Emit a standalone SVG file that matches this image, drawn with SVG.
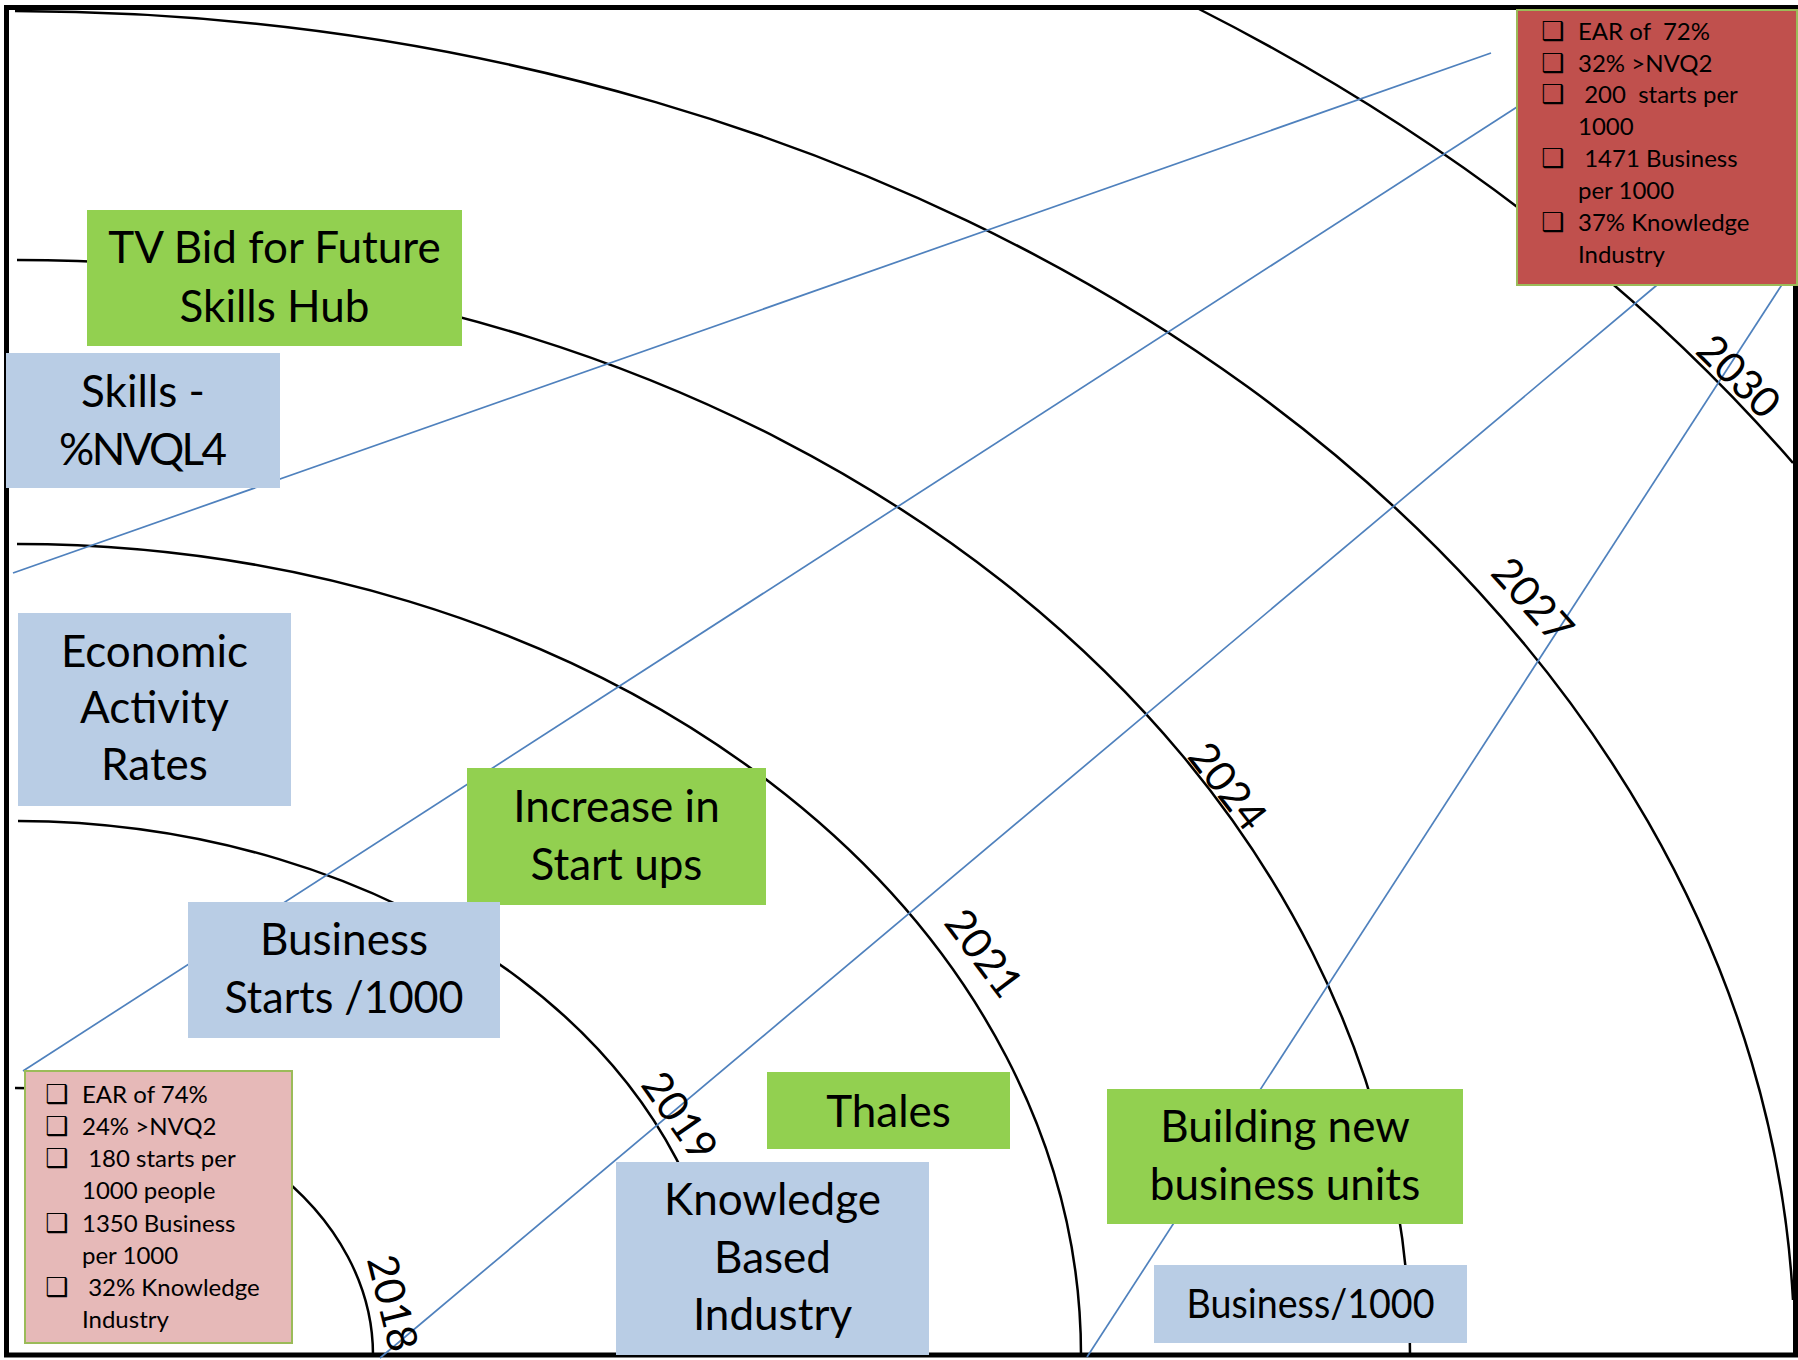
<svg xmlns="http://www.w3.org/2000/svg" width="1798" height="1360" viewBox="0 0 1798 1360">
  <style>
    .frame { fill: none; stroke: #000; stroke-width: 5; }
    .ring { fill: none; stroke: #000; stroke-width: 2.5; }
    .ray { fill: none; stroke: #4F81BD; stroke-width: 1.7; }
    .action { fill: #92D050; }
    .measure { fill: #B9CDE5; }
    .baseline-box { fill: #E6B9B8; stroke: #9BBB59; stroke-width: 2; }
    .target-box { fill: #C0504D; stroke: #9BBB59; stroke-width: 2; }
    .big { font-family: Lato, "Liberation Sans", sans-serif; font-size: 44px; fill: #000; text-anchor: middle; }
    .year { font-family: Lato, "Liberation Sans", sans-serif; font-size: 42px; fill: #000; text-anchor: middle; }
    .small { font-family: Lato, "Liberation Sans", sans-serif; font-size: 24px; fill: #000; }
    .tick { font-family: "DejaVu Sans", sans-serif; font-size: 26px; font-weight: bold; fill: #000; }
  </style>

  <rect width="1798" height="1360" fill="#fff"/>

  <!-- outer frame -->
  <rect class="frame" x="6.5" y="7.5" width="1789" height="1347.5"/>

  <!-- time rings, quarter ellipses around the lower-left corner -->
  <g id="rings">
    <path class="ring" d="M15,1088 A358,267 0 0 1 373,1355"/>
    <path class="ring" d="M18,821 A711,534 0 0 1 726,1355"/>
    <path class="ring" d="M17,544 A1066,811 0 0 1 1081,1355"/>
    <path class="ring" d="M17,260 A1395,1095 0 0 1 1410,1355"/>
    <path class="ring" d="M15,11 A1785,1344 0 0 1 1793,1300"/>
    <path class="ring" d="M1196,7.5 A2130,1619 0 0 1 1793,463"/>
  </g>

  <!-- rays from the baseline towards the target -->
  <g id="connectors">
    <line class="ray" x1="13" y1="573" x2="1491" y2="53"/>
    <line class="ray" x1="23" y1="1071" x2="1517" y2="107"/>
    <line class="ray" x1="380" y1="1358" x2="1657" y2="285"/>
    <line class="ray" x1="1087" y1="1357" x2="1783" y2="283"/>
  </g>

  <!-- year labels along the rings -->
  <g id="years">
    <text class="year" transform="translate(393,1303) rotate(76)" dy="15">2018</text>
    <text class="year" transform="translate(680,1116) rotate(55)" dy="15">2019</text>
    <text class="year" transform="translate(984,953) rotate(53)" dy="15">2021</text>
    <text class="year" transform="translate(1228,786) rotate(52)" dy="15">2024</text>
    <text class="year" transform="translate(1533,600) rotate(48)" dy="15">2027</text>
    <text class="year" transform="translate(1739,376) rotate(45)" dy="15">2030</text>
  </g>

  <g id="tv-bid">
    <rect class="action" x="87" y="210" width="375" height="136"/>
    <text class="big" x="274.5" y="263">TV Bid for Future</text>
    <text class="big" x="274.5" y="322">Skills Hub</text>
  </g>

  <g id="skills">
    <rect class="measure" x="6" y="353" width="274" height="135"/>
    <text class="big" x="143" y="407">Skills -</text>
    <text class="big" x="143" y="465" textLength="168" lengthAdjust="spacing">%NVQL4</text>
  </g>

  <g id="economic-activity">
    <rect class="measure" x="18" y="613" width="273" height="193"/>
    <text class="big" x="154.5" y="667">Economic</text>
    <text class="big" x="154.5" y="723">Activity</text>
    <text class="big" x="154.5" y="780">Rates</text>
  </g>

  <g id="start-ups">
    <rect class="action" x="467" y="768" width="299" height="137"/>
    <text class="big" x="616.5" y="822">Increase in</text>
    <text class="big" x="616.5" y="880">Start ups</text>
  </g>

  <g id="business-starts">
    <rect class="measure" x="188" y="902" width="312" height="136"/>
    <text class="big" x="344" y="955">Business</text>
    <text class="big" x="344" y="1013" textLength="239" lengthAdjust="spacingAndGlyphs">Starts /1000</text>
  </g>

  <g id="thales">
    <rect class="action" x="767" y="1072" width="243" height="77"/>
    <text class="big" x="888.5" y="1127">Thales</text>
  </g>

  <g id="knowledge-industry">
    <rect class="measure" x="616" y="1162" width="313" height="193"/>
    <text class="big" x="772.5" y="1215">Knowledge</text>
    <text class="big" x="772.5" y="1273">Based</text>
    <text class="big" x="772.5" y="1330">Industry</text>
  </g>

  <g id="new-units">
    <rect class="action" x="1107" y="1089" width="356" height="135"/>
    <text class="big" x="1285" y="1142">Building new</text>
    <text class="big" x="1285" y="1200">business units</text>
  </g>

  <g id="business-per-1000">
    <rect class="measure" x="1154" y="1265" width="313" height="78"/>
    <text class="big" x="1310.5" y="1318" style="font-size:41px" textLength="248" lengthAdjust="spacingAndGlyphs">Business/1000</text>
  </g>

  <g id="baseline-2018">
    <rect class="baseline-box" x="25" y="1071" width="267" height="272"/>
    <text class="tick" x="45" y="1103">❑</text>
    <text class="small" x="82" y="1103">EAR of 74%</text>
    <text class="tick" x="45" y="1135">❑</text>
    <text class="small" x="82" y="1135">24% &gt;NVQ2</text>
    <text class="tick" x="45" y="1167">❑</text>
    <text class="small" x="82" y="1167" xml:space="preserve"> 180 starts per</text>
    <text class="small" x="82" y="1199">1000 people</text>
    <text class="tick" x="45" y="1232">❑</text>
    <text class="small" x="82" y="1232">1350 Business</text>
    <text class="small" x="82" y="1264">per 1000</text>
    <text class="tick" x="45" y="1296">❑</text>
    <text class="small" x="82" y="1296" xml:space="preserve"> 32% Knowledge</text>
    <text class="small" x="82" y="1328">Industry</text>
  </g>

  <g id="target-2030">
    <rect class="target-box" x="1517" y="10" width="280" height="275"/>
    <text class="tick" x="1541" y="40">❑</text>
    <text class="small" x="1578" y="40" xml:space="preserve">EAR of  72%</text>
    <text class="tick" x="1541" y="72">❑</text>
    <text class="small" x="1578" y="72">32% &gt;NVQ2</text>
    <text class="tick" x="1541" y="103">❑</text>
    <text class="small" x="1578" y="103" xml:space="preserve"> 200  starts per</text>
    <text class="small" x="1578" y="135">1000</text>
    <text class="tick" x="1541" y="167">❑</text>
    <text class="small" x="1578" y="167" xml:space="preserve"> 1471 Business</text>
    <text class="small" x="1578" y="199">per 1000</text>
    <text class="tick" x="1541" y="231">❑</text>
    <text class="small" x="1578" y="231">37% Knowledge</text>
    <text class="small" x="1578" y="263">Industry</text>
  </g>
</svg>
